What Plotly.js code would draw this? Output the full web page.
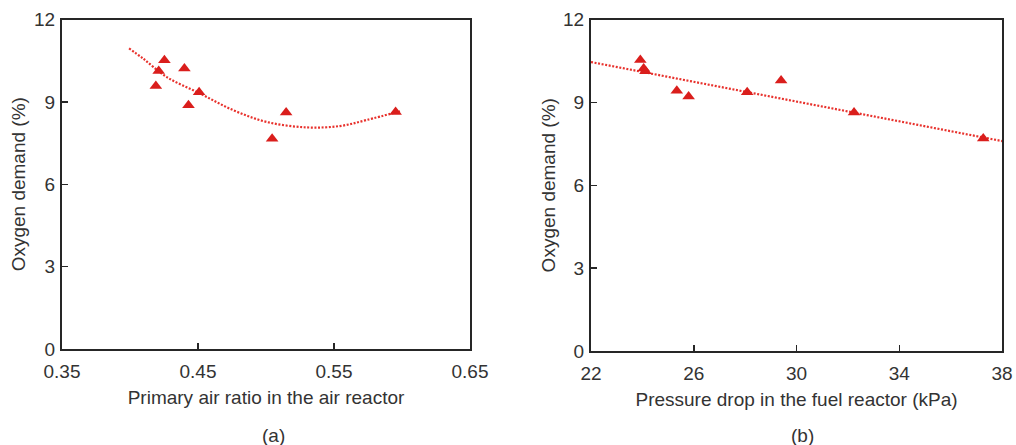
<!DOCTYPE html>
<html>
<head>
<meta charset="utf-8">
<script src="https://cdn.plot.ly/plotly-3.0.1.min.js"></script>
<style>html,body{margin:0;padding:0;background:#fff;}#chart{width:1016px;height:445px;}</style>
</head>
<body>
<div id="chart"></div>
<script>
// Panel (a): primary air ratio vs oxygen demand
const airRatio = [0.4253, 0.4211, 0.4190, 0.4400, 0.4430, 0.4508, 0.5045, 0.5148, 0.5953];
const airOxygen = [10.52, 10.12, 9.58, 10.22, 8.88, 9.35, 7.66, 8.61, 8.63];
// Panel (a) trend curve
const airFitX = [0.3993, 0.4096, 0.4268, 0.4513, 0.4758, 0.5004, 0.5298, 0.5543, 0.5740, 0.5985];
const airFitY = [10.945, 10.58, 9.91, 9.31, 8.70, 8.27, 8.07, 8.12, 8.34, 8.66];

// Panel (b): pressure drop vs oxygen demand
const pressure = [23.92, 24.05, 24.12, 25.34, 25.80, 28.08, 29.40, 32.24, 37.27];
const pressOxygen = [10.53, 10.23, 10.13, 9.42, 9.21, 9.37, 9.79, 8.63, 7.69];
// Panel (b) trend line endpoints
const pressFitX = [22, 38];
const pressFitY = [10.46, 7.60];

const xTicksA = [0.35, 0.45, 0.55, 0.65];
const xTickTextA = ['0.35', '0.45', '0.55', '0.65'];
const xTicksB = [22, 26, 30, 34, 38];
const yTicks = [0, 3, 6, 9, 12];
const yTitle = 'Oxygen demand (%)';
const xTitleA = 'Primary air ratio in the air reactor';
const xTitleB = 'Pressure drop in the fuel reactor (kPa)';
const captions = ['(a)', '(b)'];

const W = 1016, H = 445;
const markerColor = 'rgb(218,30,28)';
const lineColor = 'rgb(232,50,45)';
const textColor = '#333333';
const axisColor = '#262626';
const font = {family: 'Arial, "Liberation Sans", sans-serif', size: 19, color: textColor};
const tickFont = {family: 'Arial, "Liberation Sans", sans-serif', size: 19, color: textColor};

const traces = [
  {x: airFitX, y: airFitY, type: 'scatter', mode: 'lines', xaxis: 'x', yaxis: 'y',
   line: {color: lineColor, width: 2.2, dash: '2px,1.6px', shape: 'spline'}, hoverinfo: 'skip'},
  {x: airRatio, y: airOxygen, type: 'scatter', mode: 'markers', xaxis: 'x', yaxis: 'y',
   marker: {symbol: 'triangle-up', size: 11, color: markerColor}},
  {x: pressFitX, y: pressFitY, type: 'scatter', mode: 'lines', xaxis: 'x2', yaxis: 'y2',
   line: {color: lineColor, width: 2.2, dash: '2px,1.6px'}, hoverinfo: 'skip'},
  {x: pressure, y: pressOxygen, type: 'scatter', mode: 'markers', xaxis: 'x2', yaxis: 'y2',
   marker: {symbol: 'triangle-up', size: 11, color: markerColor}}
];

const axisCommon = {
  showline: true, mirror: true, linecolor: axisColor, linewidth: 2,
  ticks: 'inside', ticklen: 6, tickwidth: 1.5, tickcolor: axisColor,
  showgrid: false, zeroline: false, tickfont: tickFont, automargin: false
};

const layout = {
  width: W, height: H,
  margin: {l: 0, r: 0, t: 0, b: 0},
  paper_bgcolor: '#fff', plot_bgcolor: '#fff',
  showlegend: false,
  font: font,
  xaxis: Object.assign({}, axisCommon, {
    domain: [62/W, 470/W], range: [0.35, 0.65], anchor: 'y',
    tickvals: xTicksA, ticktext: xTickTextA, ticklabelstandoff: 4,
    title: {text: xTitleA, font: font, standoff: 10}
  }),
  yaxis: Object.assign({}, axisCommon, {
    domain: [1 - 349/H, 1 - 19.5/H], range: [0, 12], anchor: 'x',
    tickvals: yTicks, ticklabelstandoff: 1,
    title: {text: yTitle, font: font, standoff: 3}
  }),
  xaxis2: Object.assign({}, axisCommon, {
    domain: [591/W, 1002/W], range: [22, 38], anchor: 'y2',
    tickvals: xTicksB, ticklabelstandoff: 4,
    title: {text: xTitleB, font: font, standoff: 10}
  }),
  yaxis2: Object.assign({}, axisCommon, {
    domain: [1 - 351/H, 1 - 19.5/H], range: [0, 12], anchor: 'x2',
    tickvals: yTicks, ticklabelstandoff: 1,
    title: {text: yTitle, font: font, standoff: 2}
  }),
  annotations: [
    {text: captions[0], xref: 'paper', yref: 'paper', x: 273/W, y: 1 - 435/H,
     showarrow: false, font: font, xanchor: 'center', yanchor: 'middle'},
    {text: captions[1], xref: 'paper', yref: 'paper', x: 802/W, y: 1 - 435/H,
     showarrow: false, font: font, xanchor: 'center', yanchor: 'middle'}
  ]
};

Plotly.newPlot('chart', traces, layout, {displayModeBar: false, staticPlot: true});
</script>
</body>
</html>
